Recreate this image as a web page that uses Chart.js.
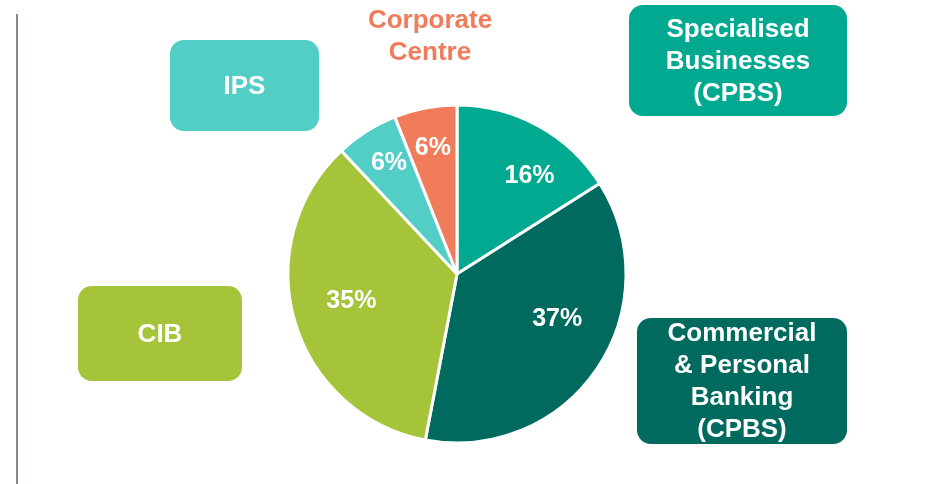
<!DOCTYPE html>
<html>
<head>
<meta charset="utf-8">
<script src="https://cdn.jsdelivr.net/npm/chart.js@4"></script>
<style>
  html, body { margin: 0; padding: 0; background: #ffffff; }
  #wrap { width: 928px; height: 484px; position: relative; }
</style>
</head>
<body>
<div id="wrap"><canvas id="pie-chartcanvas" width="928" height="484"></canvas></div>
<script>
// segment data, clockwise from 12 o'clock
var segments = ["Specialised Businesses (CPBS)", "Commercial & Personal Banking (CPBS)", "CIB", "IPS", "Corporate Centre"];
var shares = [16, 37, 35, 6, 6];
var colours = ["#00A98F", "#006A5E", "#A5C43A", "#52CEC6", "#F07C5C"];

// box captions for each segment (lines)
var captions = [
	["Specialised", "Businesses", "(CPBS)"],
	["Commercial", "& Personal", "Banking", "(CPBS)"],
	["CIB"],
	["IPS"],
	["Corporate", "Centre"]
];

var FONT = "bold 26px 'Liberation Sans', Arial, sans-serif";

// where each caption box goes (x, y, w, h); text:true = plain coloured text, no box
var boxes = [
	{x: 629, y: 5, w: 218, h: 111},
	{x: 637, y: 318, w: 210, h: 126},
	{x: 78, y: 286, w: 164, h: 95},
	{x: 170, y: 40, w: 149, h: 91},
	{x: 430, y: 37, text: true}
];

// tweak the percentage label placement per slice (fraction of radius, angle shift in degrees)
var labelPos = [
	{r: 0.72, da: 7.8},
	{r: 0.65, da: -10},
	{r: 0.645, da: 1.9},
	{r: 0.77, da: 0.9},
	{r: 0.76, da: 0}
];

var decorPlugin = {
	id: "decor",
	beforeDraw: function (chart) {
		var c = chart.ctx;
		// grey rule on the left
		c.save();
		c.strokeStyle = "#7F8B95";
		c.lineWidth = 2;
		c.beginPath();
		c.moveTo(17, 14);
		c.lineTo(17, 484);
		c.stroke();
		c.restore();
	},
	afterDraw: function (chart) {
		var c = chart.ctx;
		var meta = chart.getDatasetMeta(0);
		c.save();
		c.textAlign = "center";
		c.textBaseline = "middle";
		c.font = FONT;

		// caption boxes
		for (var i = 0; i < boxes.length; i++) {
			var b = boxes[i];
			var lines = captions[i];
			var lh = 32;
			if (b.text) {
				c.fillStyle = colours[i];
				for (var k = 0; k < lines.length; k++) {
					c.fillText(lines[k], b.x, b.y - (lines.length - 1) * lh / 2 + k * lh);
				}
				continue;
			}
			c.fillStyle = colours[i];
			c.beginPath();
			c.roundRect(b.x, b.y, b.w, b.h, 14);
			c.fill();
			c.fillStyle = "#ffffff";
			var cx = b.x + b.w / 2;
			var cy = b.y + b.h / 2 + 1;
			for (var k = 0; k < lines.length; k++) {
				c.fillText(lines[k], cx, cy - (lines.length - 1) * lh / 2 + k * lh);
			}
		}

		// percentage labels inside the slices
		c.font = "bold 25px 'Liberation Sans', Arial, sans-serif";
		c.fillStyle = "#ffffff";
		for (var j = 0; j < meta.data.length; j++) {
			var arc = meta.data[j];
			var p = arc.getProps(["x", "y", "startAngle", "endAngle", "outerRadius"], true);
			var mid = (p.startAngle + p.endAngle) / 2 + labelPos[j].da * Math.PI / 180;
			var rr = p.outerRadius * labelPos[j].r;
			c.fillText(shares[j] + "%", p.x + rr * Math.cos(mid), p.y + rr * Math.sin(mid));
		}
		c.restore();
	}
};

var ctx = document.getElementById("pie-chartcanvas");

var chart = new Chart(ctx, {
	type: "pie",
	data: {
		labels: segments,
		datasets: [{
			data: shares,
			backgroundColor: colours,
			borderColor: "#ffffff",
			borderWidth: 3
		}]
	},
	options: {
		responsive: false,
		animation: false,
		radius: 169,
		layout: {padding: {left: 287, right: 301, top: 104, bottom: 40}},
		plugins: {
			legend: {display: false},
			tooltip: {enabled: false}
		}
	},
	plugins: [decorPlugin]
});
</script>
</body>
</html>
